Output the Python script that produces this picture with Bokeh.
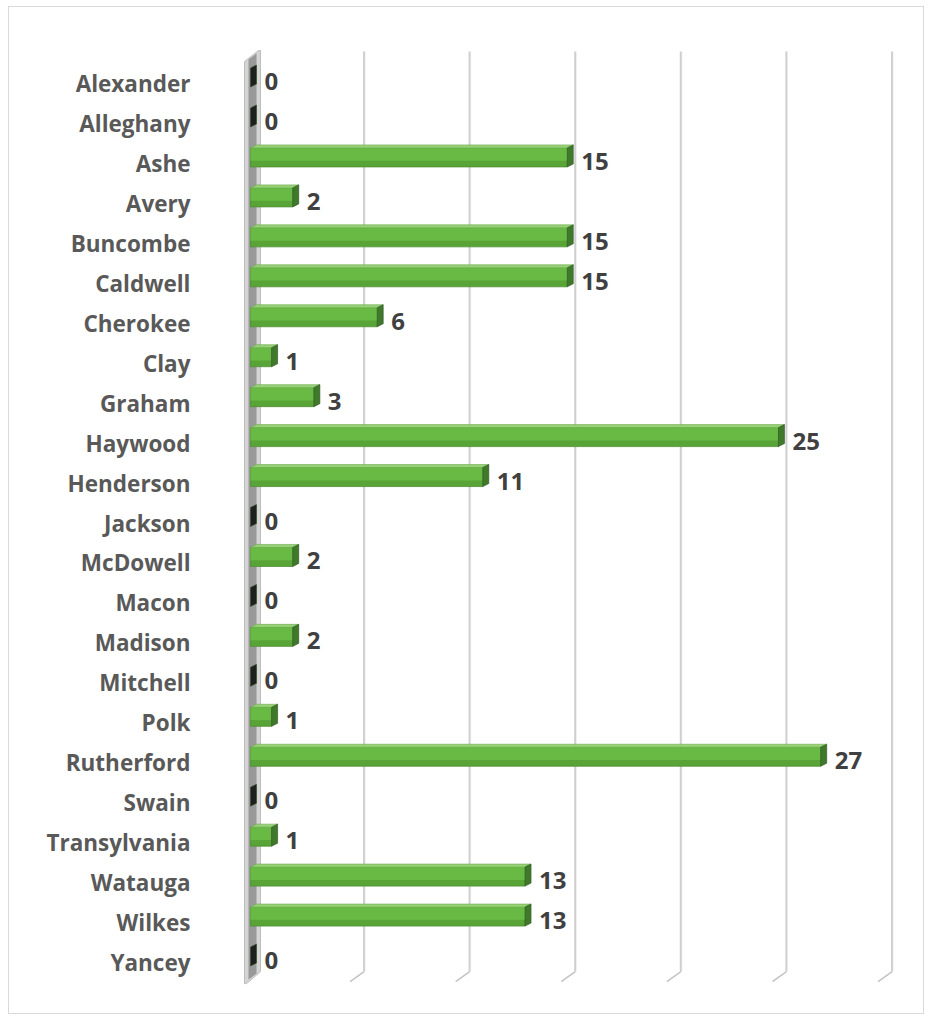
import numpy as np
from bokeh.plotting import figure
from bokeh.models import Range1d, FixedTicker, ColumnDataSource
from bokeh.core.properties import value
from bokeh.embed import file_html
from bokeh.resources import INLINE

counties = ["Alexander", "Alleghany", "Ashe", "Avery", "Buncombe", "Caldwell",
            "Cherokee", "Clay", "Graham", "Haywood", "Henderson", "Jackson",
            "McDowell", "Macon", "Madison", "Mitchell", "Polk", "Rutherford",
            "Swain", "Transylvania", "Watauga", "Wilkes", "Yancey"]
counts = [0, 0, 15, 2, 15, 15, 6, 1, 3, 25, 11, 0, 2, 0, 2, 0, 1, 27, 0, 1, 13, 13, 0]
value_ticks = [0, 5, 10, 15, 20, 25, 30]

FONT = "Open Sans"
PX = 21.12   # px per value unit
PY = 39.95   # px per category

def ypx(p):
    return (p - 84.0) / PY

p = figure(width=916, height=1008,
           x_range=Range1d(-0.9, 31.3), y_range=Range1d(22.926, -1.352),
           output_backend="svg", toolbar_location=None,
           min_border_left=222, min_border_right=14,
           min_border_top=22, min_border_bottom=16)
p.styles = {"border": "1px solid #d9d9d9", "margin-left": "8px", "margin-top": "6px"}
p.outline_line_color = None
p.xgrid.visible = False
p.ygrid.visible = False
p.xaxis.visible = False
p.background_fill_color = "white"

idx = np.arange(len(counties))
vals = np.array(counts, dtype=float)
tk = np.array(value_ticks, dtype=float)

# back wall gridlines + floor diagonals
bx = 8 / PX
p.segment(x0=tk + bx, y0=[ypx(52)] * len(tk), x1=tk + bx, y1=[ypx(972)] * len(tk),
          line_color="#cfcfcf", line_width=2.2)
p.segment(x0=tk + bx + 1.2 / PX, y0=[ypx(52)] * len(tk), x1=tk + bx + 1.2 / PX, y1=[ypx(972)] * len(tk),
          line_color="#f2f2f2", line_width=0.6)
p.segment(x0=tk + bx, y0=[ypx(972)] * len(tk), x1=tk + bx - 14 / PX, y1=[ypx(982)] * len(tk),
          line_color="#c4c4c4", line_width=1.6)

# side wall (value axis plane)
wx = [-6 / PX, 8 / PX, 10 / PX, 10 / PX, -4 / PX, -6 / PX]
wy = [ypx(62), ypx(51), ypx(51), ypx(972), ypx(984), ypx(984)]
p.patch(wx, wy, fill_color="#d4d4d4", line_color="#bdbdbd", line_width=1)
wx2 = [-2 / PX, 6 / PX, 6 / PX, -2 / PX]
wy2 = [ypx(60), ypx(54), ypx(974), ypx(980)]
p.patch(wx2, wy2, fill_color="#8a8a8a", line_color=None, fill_alpha=0.8)

# bars (3D look)
yc = idx - 6 / PY
hh = 9.5 / PY
dx = 6 / PX
dy = 3 / PY
nz = vals > 0
src = ColumnDataSource(dict(left=np.zeros(nz.sum()), right=vals[nz],
                            top=yc[nz] - hh, bottom=yc[nz] + hh,
                            mid=yc[nz] + hh * 0.35))
p.quad(left="left", right="right", top="top", bottom="bottom", source=src,
       fill_color="#58a437", line_color="#4f8f33", line_width=0.8)
p.quad(left="left", right="right", top="top", bottom="mid", source=src,
       fill_color="#69ba45", line_color=None)
# top faces
top_xs = [[0, v, v + dx, dx] for v in vals[nz]]
top_ys = [[y - hh, y - hh, y - hh - dy, y - hh - dy] for y in yc[nz]]
p.patches(top_xs, top_ys, fill_color="#98d277", line_color="#6aa84c", line_width=0.6)
# end faces
side_xs = [[v, v + dx, v + dx, v] for v in vals]
side_ys = [[y - hh, y - hh - dy, y + hh - dy, y + hh] for y in yc]
side_col = ["#3f7a2b" if v > 0 else "#1f1f1f" for v in vals]
p.patches(side_xs, side_ys, fill_color=side_col, line_color="#2e4f24", line_width=0.6)

# data labels
p.text(x=vals, y=idx - 2 / PY, text=[str(c) for c in counts], x_offset=14,
       text_font=value(FONT), text_font_style="bold", text_font_size="24px",
       text_color="#404040", text_align="left", text_baseline="middle")

# category axis
p.yaxis.ticker = FixedTicker(ticks=list(range(len(counties))))
p.yaxis.major_label_overrides = {i: c for i, c in enumerate(counties)}
p.yaxis.axis_line_color = None
p.yaxis.major_tick_line_color = None
p.yaxis.minor_tick_line_color = None
p.yaxis.major_label_standoff = 35
p.yaxis.major_label_text_font = FONT
p.yaxis.major_label_text_font_style = "bold"
p.yaxis.major_label_text_font_size = "22.5px"
p.yaxis.major_label_text_color = "#595959"

open("out.html", "w").write(file_html(p, INLINE))
